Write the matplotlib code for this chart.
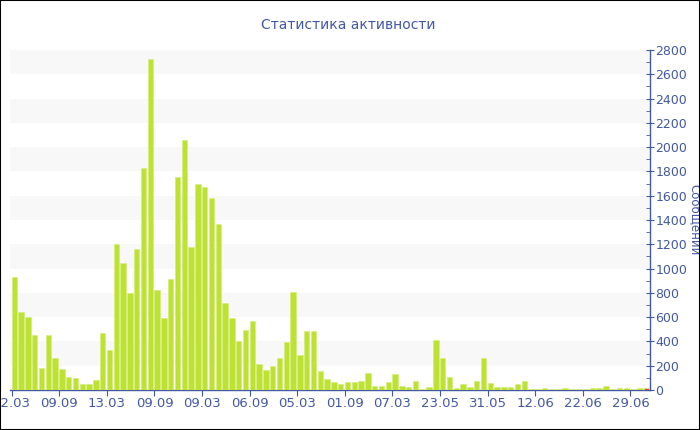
import matplotlib
matplotlib.use("Agg")
import matplotlib.pyplot as plt
from matplotlib.ticker import MultipleLocator
import numpy as np

title = "Статистика активности"
y_label = "Сообщений"
values = [930, 640, 600, 450, 180, 450, 265, 170, 105, 100,
          46, 46, 82, 470, 330, 1200, 1045, 800, 1165, 1830,
          2730, 825, 595, 915, 1755, 2060, 1180, 1700, 1670, 1585,
          1370, 715, 590, 405, 495, 570, 215, 165, 200, 260,
          395, 810, 285, 485, 485, 155, 88, 63, 47, 63,
          63, 71, 137, 33, 33, 63, 129, 30, 22, 71,
          8, 27, 412, 266, 104, 14, 49, 22, 77, 261,
          60, 22, 22, 25, 49, 77, 8, 5, 16, 8,
          5, 14, 8, 8, 11, 16, 16, 33, 11, 19,
          14, 11, 14, 19]
tick_labels = ["12.03", "09.09", "13.03", "09.09", "09.03", "06.09", "05.03",
               "01.09", "07.03", "23.05", "31.05", "12.06", "22.06", "29.06"]
tick_step = 7

text_color = "#4358a3"
bar_color = "#bde232"
last_color = "#e4502d"

fig = plt.figure(figsize=(7, 4.3), dpi=100)
ax = fig.add_axes([10/700, 1-390/430, 640/700, 340/430])

n = len(values)
x = np.arange(n)
colors = [bar_color]*(n-1) + [last_color]
ax.bar(x, values, width=0.78, align='edge', color=colors, edgecolor='#d4ee7a', linewidth=0.4, zorder=3)

ax.set_xlim(-0.25, n - 0.12)
ax.set_ylim(0, 2800)

for lo in range(200, 2800, 400):
    ax.axhspan(lo, lo + 200, color="#f8f8f8", zorder=0, linewidth=0)

ax.yaxis.tick_right()
ax.yaxis.set_label_position("right")
ax.yaxis.set_major_locator(MultipleLocator(200))
ax.yaxis.set_minor_locator(MultipleLocator(100))
ax.set_xticks(x[::tick_step][:len(tick_labels)])
ax.set_xticklabels(tick_labels)

for s in ["top", "left"]:
    ax.spines[s].set_visible(False)
for s in ["right", "bottom"]:
    ax.spines[s].set_color(text_color)
    ax.spines[s].set_linewidth(1.0)

ax.tick_params(axis='y', which='major', direction='inout', length=6, color=text_color,
               labelcolor=text_color, labelsize=9, pad=1)
ax.tick_params(axis='y', which='minor', direction='in', length=3, color=text_color)
ax.tick_params(axis='x', which='major', direction='out', length=4, color=text_color,
               labelcolor=text_color, labelsize=9.5, pad=1)

fig.text(0.497, 1-25/430, title, ha='center', va='center', color=text_color, fontsize=10)
fig.text(695/700, 1-220/430, y_label, ha='center', va='center', rotation=270,
         color=text_color, fontsize=8.5)

# figure frame
fig.patches.append(plt.Rectangle((0, 0), 1, 1, transform=fig.transFigure,
                                 fill=False, edgecolor='black', linewidth=1.5, zorder=10))

fig.savefig("out.png", dpi=100)
